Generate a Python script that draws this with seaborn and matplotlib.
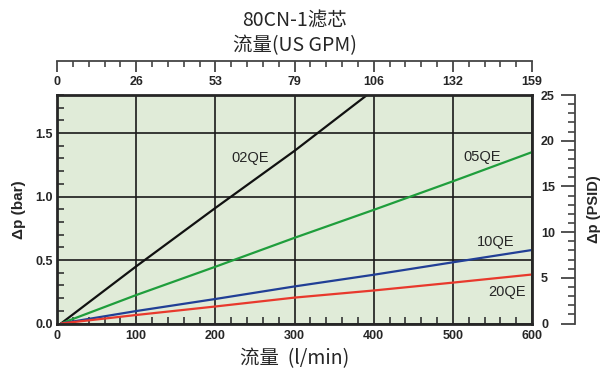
import pandas as pd
import matplotlib
matplotlib.use("Agg")
import matplotlib.pyplot as plt
from matplotlib.ticker import MultipleLocator, FixedLocator
import seaborn as sns

# flow in l/min, pressure drop in bar
flow = [5, 100, 200, 300, 400, 500, 600]
dp_02qe = [0.0, 0.45, 0.91, 1.36, 1.84, 2.30, 2.76]
dp_05qe = [0.0, 0.224, 0.447, 0.675, 0.895, 1.12, 1.35]
dp_10qe = [0.0, 0.098, 0.193, 0.292, 0.384, 0.482, 0.579]
dp_20qe = [0.0, 0.067, 0.134, 0.204, 0.26, 0.322, 0.386]

filters = ["02QE", "05QE", "10QE", "20QE"]
colors = ["#111111", "#1f9e3c", "#213f96", "#e8392d"]
label_pos = [(244, 1.30), (537, 1.31), (554, 0.64), (568, 0.25)]

lpm_ticks = [0, 100, 200, 300, 400, 500, 600]
gpm_labels = ["0", "26", "53", "79", "106", "132", "159"]
bar_ticks = [0.0, 0.5, 1.0, 1.5]
psi_ticks = [0, 5, 10, 15, 20, 25]

rows = []
for name, vals in zip(filters, [dp_02qe, dp_05qe, dp_10qe, dp_20qe]):
    for f, v in zip(flow, vals):
        rows.append({"flow": f, "dp": v, "filter": name})
df = pd.DataFrame(rows)

sns.set_style("ticks")
plt.rcParams["font.family"] = ["Liberation Sans", "Noto Sans CJK SC", "DejaVu Sans"]
cjk = ["Noto Sans CJK SC", "DejaVu Sans"]

fig = plt.figure(figsize=(6, 3.71), dpi=100)
ax = fig.add_axes([57 / 600, 1 - 323.5 / 371, 475 / 600, (323.5 - 95) / 371])
ax.set_facecolor("#e0ebd8")

sns.lineplot(data=df, x="flow", y="dp", hue="filter", palette=dict(zip(filters, colors)),
             linewidth=1.6, legend=False, ax=ax)
for name, (tx, ty) in zip(filters, label_pos):
    ax.text(tx, ty, name, ha="center", va="center", fontsize=10.5)

ax.set_xlim(0, 600)
ax.set_ylim(0, 1.8)
ax.set_xticks(lpm_ticks)
ax.set_yticks(bar_ticks)
ax.set_yticklabels([f"{t:.1f}" for t in bar_ticks])
ax.xaxis.set_minor_locator(MultipleLocator(20))
ax.yaxis.set_minor_locator(MultipleLocator(0.1))
ax.tick_params(which="major", direction="in", length=0, labelsize=9, width=1.2)
ax.tick_params(axis="x", which="major", pad=5)
ax.tick_params(axis="y", which="major", pad=3)
ax.tick_params(which="minor", direction="in", length=5, width=1.2, color="#333333")
for lab in ax.get_xticklabels() + ax.get_yticklabels():
    lab.set_fontweight("bold")
ax.grid(which="major", color="#1a1a1a", linewidth=1.2)
ax.set_axisbelow(True)
for sp in ax.spines.values():
    sp.set_linewidth(2)
    sp.set_visible(True)
ax.set_xlabel("流量  (l/min)", family=cjk, fontsize=14, labelpad=4)
ax.set_ylabel("Δp (bar)", fontsize=11, fontweight="bold", labelpad=7)

# top axis in US GPM
ax_top = ax.twiny()
ax_top.set_xlim(0, 600)
ax_top.xaxis.set_major_locator(FixedLocator(lpm_ticks))
ax_top.set_xticklabels(gpm_labels)
ax_top.xaxis.set_minor_locator(MultipleLocator(20))
for s in ["bottom", "left", "right"]:
    ax_top.spines[s].set_visible(False)
ax_top.spines["top"].set_position(("outward", 24.5))
ax_top.spines["top"].set_linewidth(1.3)
ax_top.spines["top"].set_color("#444444")
ax_top.tick_params(axis="x", which="major", direction="in", length=8, width=1.3,
                   color="#444444", labelsize=9, pad=-19.5)
ax_top.tick_params(axis="x", which="minor", direction="in", length=4, width=1.2, color="#444444")
for lab in ax_top.get_xticklabels():
    lab.set_fontweight("bold")
ax_top.set_xlabel("流量(US GPM)", family=cjk, fontsize=14, labelpad=4)

# right axis in PSID
ax_r = ax.twinx()
ax_r.set_ylim(0, 25)
ax_r.set_yticks(psi_ticks)
ax_r.yaxis.set_minor_locator(MultipleLocator(1))
for s in ["bottom", "left", "top"]:
    ax_r.spines[s].set_visible(False)
ax_r.spines["right"].set_position(("outward", 31))
ax_r.spines["right"].set_linewidth(1.3)
ax_r.spines["right"].set_color("#444444")
ax_r.tick_params(axis="y", which="major", direction="in", length=10, width=1.3,
                 color="#444444", labelsize=9, pad=-24.5)
ax_r.tick_params(axis="y", which="minor", direction="in", length=5, width=1.2, color="#444444")
for lab in ax_r.get_yticklabels():
    lab.set_fontweight("bold")
ax_r.set_ylabel("Δp (PSID)", fontsize=10.5, fontweight="bold", labelpad=5)

fig.text(294.5 / 600, 1 - 21 / 371, "80CN-1滤芯", family=cjk, fontsize=14,
         ha="center", va="center")

fig.savefig("out.png", dpi=100)
